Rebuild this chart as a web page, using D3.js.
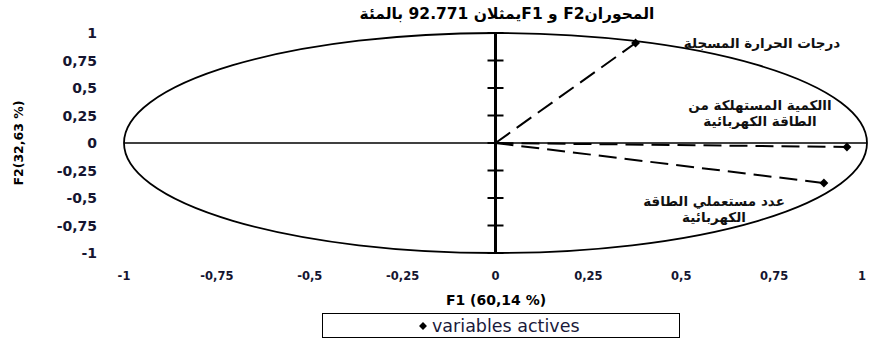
<!DOCTYPE html>
<html>
<head>
<meta charset="utf-8">
<script src="https://cdn.jsdelivr.net/npm/d3@7"></script>
<style>
  body { margin: 0; background: #fff; }
  svg { display: block; }
</style>
</head>
<body>
<div id="app"></div>
<script>
// correlation circle data (F1, F2 coordinates of the active variables)
const variables = ["درجات الحرارة المسجلة", "االكمية المستهلكة من|الطاقة الكهربائية", "عدد مستعملي الطاقة|الكهربائية"];
const f1Values = [0.377, 0.946, 0.884];
const f2Values = [0.909, -0.036, -0.364];
const tickValues = [-1, -0.75, -0.5, -0.25, 0, 0.25, 0.5, 0.75, 1];
const tickLabels = ["-1", "-0,75", "-0,5", "-0,25", "0", "0,25", "0,5", "0,75", "1"];
const titleText = "المحورانF2 و F1يمثلان 92.771 بالمئة";

const width = 869, height = 342;
const svg = d3.select("#app").append("svg").attr("width", width).attr("height", height);

const x = d3.scaleLinear().domain([-1, 1]).range([124, 867]);
const y = d3.scaleLinear().domain([-1, 1]).range([253, 33]);

const boldFont = "DejaVu Sans";

// title
svg.append("text")
  .attr("x", 507).attr("y", 14)
  .attr("text-anchor", "middle").attr("dominant-baseline", "central")
  .attr("direction", "rtl")
  .attr("font-family", boldFont).attr("font-weight", "bold").attr("font-size", 15.5)
  .text(titleText);

// unit circle drawn as ellipse through the scales
svg.append("ellipse")
  .attr("cx", x(0)).attr("cy", y(0))
  .attr("rx", x(1) - x(0)).attr("ry", y(0) - y(1))
  .attr("fill", "none").attr("stroke", "#000").attr("stroke-width", 1.8);

// horizontal axis
svg.append("line")
  .attr("x1", x(-1)).attr("x2", x(1)).attr("y1", y(0)).attr("y2", y(0))
  .attr("stroke", "#000").attr("stroke-width", 1.3);

// vertical axis with ticks
svg.append("line")
  .attr("x1", x(0)).attr("x2", x(0)).attr("y1", y(1)).attr("y2", y(-1))
  .attr("stroke", "#000").attr("stroke-width", 3);
svg.selectAll(".vtick").data(tickValues).enter().append("line")
  .attr("class", "vtick")
  .attr("x1", x(0) - 8).attr("x2", x(0) + 8)
  .attr("y1", d => y(d)).attr("y2", d => y(d))
  .attr("stroke", "#000").attr("stroke-width", 2);

// y tick labels
svg.selectAll(".ylab").data(tickValues).enter().append("text")
  .attr("class", "ylab")
  .attr("x", 97).attr("y", d => y(d))
  .attr("text-anchor", "end").attr("dominant-baseline", "central")
  .attr("font-family", boldFont).attr("font-weight", "bold").attr("font-size", 14)
  .attr("fill", "#151530")
  .text((d, i) => tickLabels[i]);

// x tick labels
svg.selectAll(".xlab").data(tickValues).enter().append("text")
  .attr("class", "xlab")
  .attr("x", d => Math.min(x(d), 862)).attr("y", 276)
  .attr("text-anchor", "middle").attr("dominant-baseline", "central")
  .attr("font-family", boldFont).attr("font-weight", "bold").attr("font-size", 11.5)
  .attr("fill", "#151530")
  .text((d, i) => tickLabels[i]);

// axis titles
svg.append("text")
  .attr("x", 496).attr("y", 300)
  .attr("text-anchor", "middle").attr("dominant-baseline", "central")
  .attr("font-family", boldFont).attr("font-weight", "bold").attr("font-size", 14)
  .text("F1 (60,14 %)");
svg.append("text")
  .attr("transform", "translate(18,143) rotate(-90)")
  .attr("text-anchor", "middle").attr("dominant-baseline", "central")
  .attr("font-family", boldFont).attr("font-weight", "bold").attr("font-size", 12.5)
  .text("F2(32,63 %)");

// dashed vectors
svg.selectAll(".vec").data(f1Values).enter().append("line")
  .attr("class", "vec")
  .attr("x1", x(0)).attr("y1", y(0))
  .attr("x2", d => x(d)).attr("y2", (d, i) => y(f2Values[i]))
  .attr("stroke", "#000").attr("stroke-width", 2)
  .attr("stroke-dasharray", "18,8");

// diamond markers
const diamond = d3.symbol().type(d3.symbolDiamond2).size(50);
svg.selectAll(".pt").data(f1Values).enter().append("path")
  .attr("class", "pt")
  .attr("d", diamond)
  .attr("transform", (d, i) => `translate(${x(d)},${y(f2Values[i])})`)
  .attr("fill", "#000");

// variable labels
const labelPos = [[762, 43], [760, 105], [714, 201]];
variables.forEach((v, i) => {
  const lines = v.split("|");
  const t = svg.append("text")
    .attr("x", labelPos[i][0]).attr("y", labelPos[i][1])
    .attr("text-anchor", "middle").attr("dominant-baseline", "central")
    .attr("direction", "rtl")
    .attr("font-family", boldFont).attr("font-weight", "bold").attr("font-size", 13.5)
    .attr("fill", "#111");
  lines.forEach((ln, j) => {
    t.append("tspan").attr("x", labelPos[i][0]).attr("dy", j === 0 ? 0 : 16).text(ln);
  });
});

// legend
svg.append("rect")
  .attr("x", 322.5).attr("y", 313.5).attr("width", 357).attr("height", 24)
  .attr("fill", "#fff").attr("stroke", "#000").attr("stroke-width", 1);
svg.append("path")
  .attr("d", d3.symbol().type(d3.symbolDiamond2).size(40))
  .attr("transform", "translate(423,326)");
svg.append("text")
  .attr("x", 432).attr("y", 326)
  .attr("dominant-baseline", "central")
  .attr("font-family", "DejaVu Sans").attr("font-size", 17.5)
  .attr("fill", "#1a1a3a")
  .text("variables actives");
</script>
</body>
</html>
